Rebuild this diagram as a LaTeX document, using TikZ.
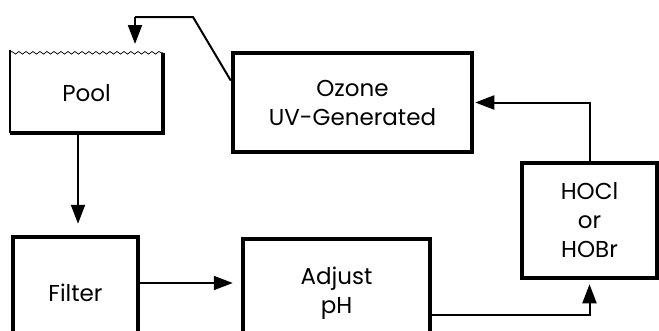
\documentclass[tikz,border=0pt]{standalone}
\usepackage{fontspec}
\setmainfont{Poppins}
\usetikzlibrary{arrows.meta,decorations.pathmorphing,calc}
\begin{document}
\begin{tikzpicture}[x=1pt,y=-1pt,
  box/.style={draw,line width=4.5pt,inner sep=0pt,align=center,font=\fontsize{23}{29}\selectfont},
  lbl/.style={inner sep=0pt,align=center,font=\fontsize{23}{29}\selectfont},
  arr/.style={line width=2pt,-{Triangle[length=19pt,width=14pt]}},
  conn/.style={line width=2pt}]
\useasboundingbox (0,0) rectangle (659,330);
\clip (0,0) rectangle (659,330);
% Pool
\node[lbl,minimum width=153pt,minimum height=80pt] (pool) at (86.5,93) {Pool};
\draw[line width=2pt] ([yshift=3pt]pool.north west) -- (pool.south west);
\draw[line width=4.5pt] (pool.south west) -- (pool.south east) -- (pool.north east);
\draw[line width=0.7pt,decorate,decoration={snake,segment length=7pt,amplitude=1.3pt}] (pool.north west) -- (pool.north east);
% boxes
\node[box,minimum width=239pt,minimum height=99pt] (ozone) at (352.5,102.5) {Ozone\\UV-Generated};
\node[box,minimum width=135pt,minimum height=115pt] (hocl) at (589.5,220.5) {HOCl\\or\\HOBr};
\node[box,minimum width=125pt,minimum height=112pt] (filter) at (75.5,293) {Filter};
\node[box,minimum width=187pt,minimum height=108pt] (adjust) at (336.5,293) {Adjust\\pH};
% connectors
\draw[arr,shorten >=11pt] ([xshift=-8.5pt]pool.south) -- ([xshift=2.5pt]filter.north);
\draw[arr,shorten >=8pt] ([yshift=10pt]filter.east) -- ([yshift=10pt]filter.east -| adjust.west);
\draw[arr,shorten >=4pt] ([yshift=-22pt]adjust.east) -| (hocl.south);
\draw[arr,shorten >=1pt] (hocl.north) |- (ozone.east);
\coordinate (k1) at (193,17);
\coordinate (k2) at (135,17);
\coordinate (k3) at (135,44);
\draw[conn] ([yshift=22pt]ozone.west) -- (k1) -- (k2);
\draw[arr] (k2) -- (k3);
\end{tikzpicture}
\end{document}
